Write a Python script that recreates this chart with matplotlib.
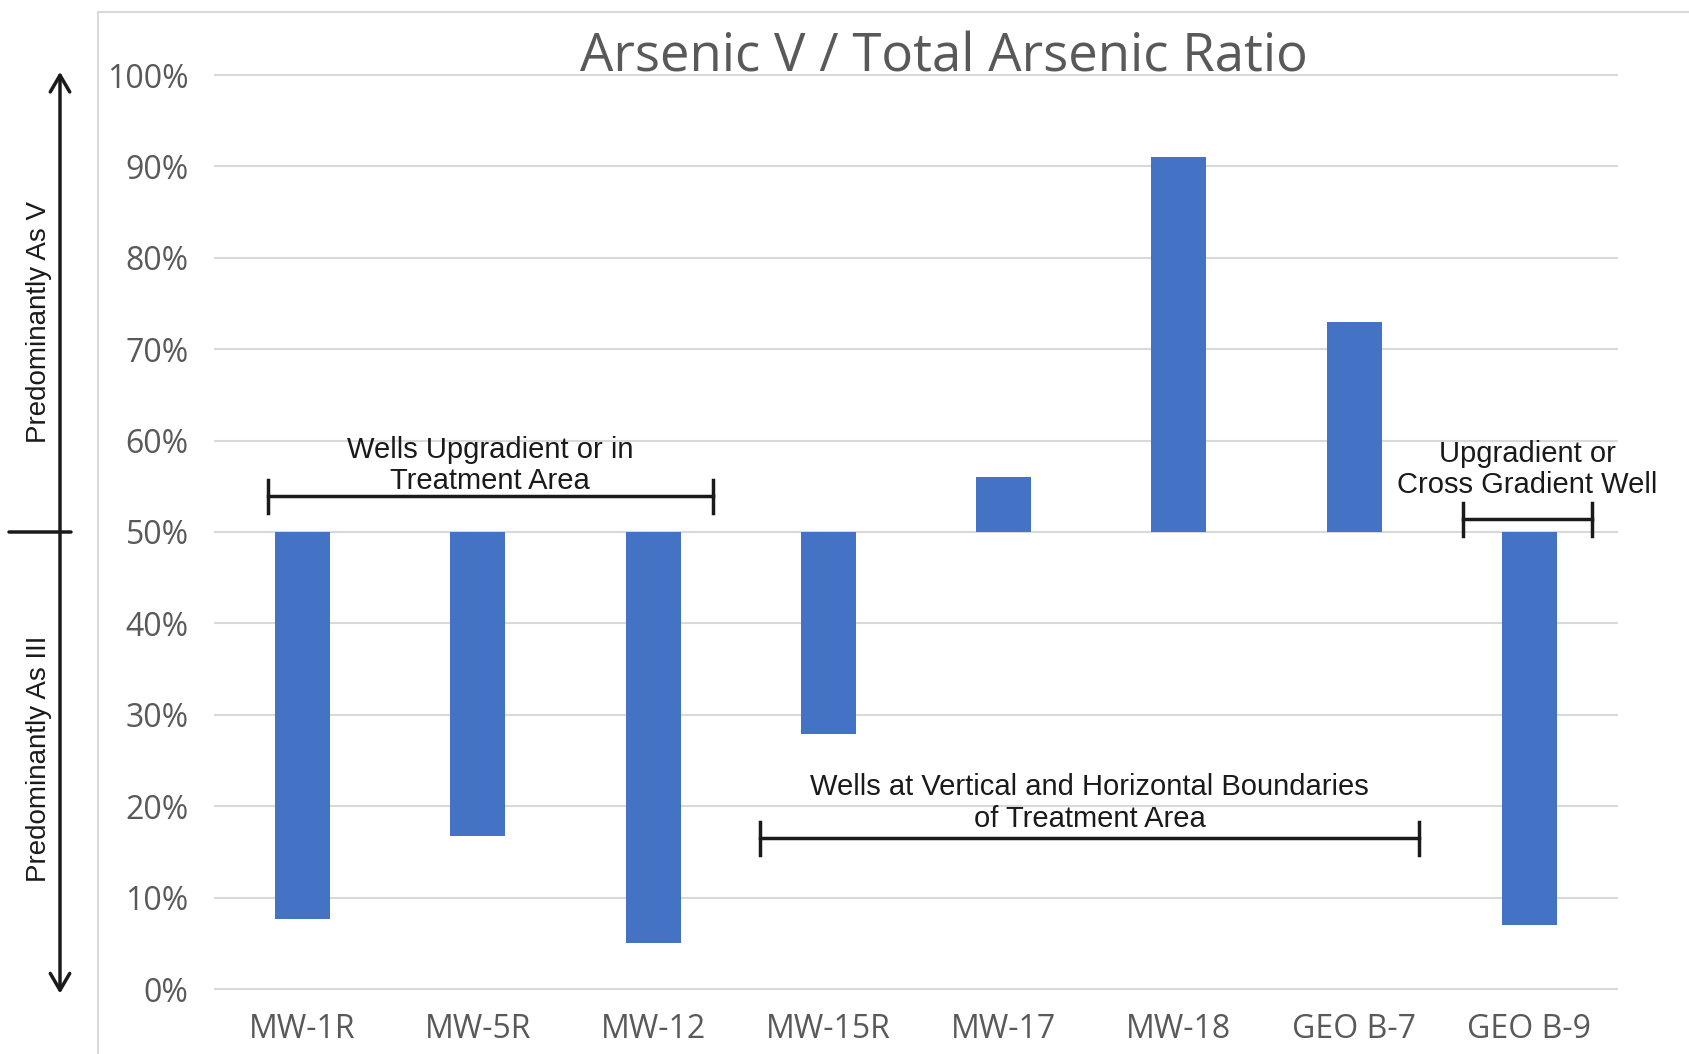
import matplotlib
matplotlib.use('Agg')
import matplotlib.pyplot as plt
from matplotlib.patches import Rectangle
from matplotlib.ticker import PercentFormatter
from matplotlib.transforms import blended_transform_factory

# 数据（从图上读出的比例）
wells = ['MW-1R', 'MW-5R', 'MW-12', 'MW-15R', 'MW-17', 'MW-18', 'GEO B-7', 'GEO B-9']
ratio = [0.077, 0.167, 0.050, 0.279, 0.560, 0.910, 0.730, 0.070]
baseline = 0.5
y_ticks = [0.0, 0.1, 0.2, 0.3, 0.4, 0.5, 0.6, 0.7, 0.8, 0.9, 1.0]

# 分组括号：(起点, 终点, 括号高度, 文字高度, 文字)
groups = [
    (-0.20, 2.34, 0.539, 0.540, 'Wells Upgradient or in\nTreatment Area'),
    (2.61, 6.37, 0.165, 0.171, 'Wells at Vertical and Horizontal Boundaries\nof Treatment Area'),
    (6.62, 7.36, 0.514, 0.536, 'Upgradient or\nCross Gradient Well'),
]

gray = '#595959'
grid_c = '#D9D9D9'
bar_c = '#4472C4'
black = '#1a1a1a'

fig = plt.figure(figsize=(16.9, 10.54), dpi=100)
ax = fig.add_axes([215 / 1690, 1 - 989 / 1054, (1617 - 215) / 1690, (989 - 75) / 1054])

# 外框
fig.patches.append(Rectangle((98 / 1690, -0.05), 1.0, 1 - 12 / 1054 + 0.05,
                             transform=fig.transFigure, fill=False,
                             edgecolor=grid_c, linewidth=1.5))

# 柱子：从50%开始往上或往下
x = list(range(len(wells)))
heights = [r - baseline for r in ratio]
ax.bar(x, heights, bottom=baseline, width=0.315, color=bar_c, zorder=3)

ax.set_xlim(-0.5, 7.5)
ax.set_ylim(0, 1)
ax.set_yticks(y_ticks)
ax.yaxis.set_major_formatter(PercentFormatter(1.0, decimals=0))
ax.set_xticks(x)
ax.set_xticklabels(wells)
ax.grid(axis='y', color=grid_c, linewidth=1.5, zorder=0)
for gl in ax.get_ygridlines():
    gl.set_clip_on(False)
for s in ax.spines.values():
    s.set_visible(False)
ax.tick_params(length=0, colors=gray, labelsize=23)
ax.tick_params(axis='y', pad=19)
ax.tick_params(axis='x', pad=17)
for lab in ax.get_xticklabels() + ax.get_yticklabels():
    lab.set_family('Open Sans')
    lab.set_color(gray)

ax.set_title('Arsenic V / Total Arsenic Ratio', fontsize=38, color=gray,
             family='Open Sans', pad=0, y=1.004, x=0.52)

# 分组括号
for x0, x1, yb, yt, txt in groups:
    ax.plot([x0, x1], [yb, yb], color=black, lw=2.5, zorder=4, clip_on=False)
    ax.plot([x0, x0], [yb - 0.018, yb + 0.018], color=black, lw=2.5, zorder=4, clip_on=False)
    ax.plot([x1, x1], [yb - 0.018, yb + 0.018], color=black, lw=2.5, zorder=4, clip_on=False)
    ax.text((x0 + x1) / 2, yt, txt, ha='center', va='bottom', fontsize=21,
            family='Liberation Sans', color=black, linespacing=1.15, zorder=5)

# 左边的双向箭头
mixed = blended_transform_factory(fig.transFigure, ax.transData)
ax.annotate('', xy=(60 / 1690, 1.0035), xytext=(60 / 1690, -0.005),
            xycoords=mixed, textcoords=mixed,
            arrowprops=dict(arrowstyle='<->,head_length=0.6,head_width=0.35', color=black,
                            lw=2.5, mutation_scale=20, shrinkA=0, shrinkB=0),
            annotation_clip=False)
ax.annotate('', xy=(71 / 1690, baseline), xytext=(9 / 1690, baseline),
            xycoords=mixed, textcoords=mixed,
            arrowprops=dict(arrowstyle='-', color=black, lw=2.5, shrinkA=0, shrinkB=0),
            annotation_clip=False)
ax.text(39 / 1690, 0.73, 'Predominantly As V', rotation=90, ha='center', va='center',
        transform=mixed, fontsize=20, family='Liberation Sans', color=black)
ax.text(39 / 1690, 0.252, 'Predominantly As III', rotation=90, ha='center', va='center',
        transform=mixed, fontsize=20, family='Liberation Sans', color=black)

fig.savefig('out.png', dpi=100)
